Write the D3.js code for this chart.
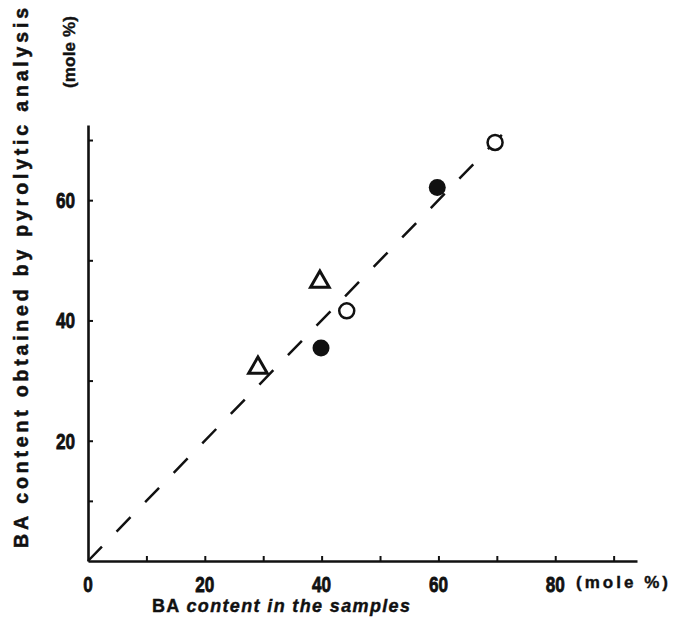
<!DOCTYPE html>
<html>
<head>
<meta charset="utf-8">
<script src="https://cdn.jsdelivr.net/npm/d3@7"></script>
<style>
  html, body { margin: 0; padding: 0; background: #fff; }
  svg { display: block; }
  .num { font-family: "Liberation Sans", "DejaVu Sans", sans-serif; font-weight: bold; }
  .lab { font-family: "Liberation Sans", "DejaVu Sans", sans-serif; font-weight: bold; }
</style>
</head>
<body>
<script>
// ---- data ----
const xTicks = [10, 20, 30, 40, 50, 60, 70, 80, 90];
const yTicks = [10, 20, 30, 40, 50, 60, 70];
const xTickLabels = [0, 20, 40, 60, 80];
const yTickLabels = [20, 40, 60];
// open triangles
const triX = [29.1, 39.7];
const triY = [32.3, 46.6];
// filled circles
const filledX = [39.9, 59.8];
const filledY = [35.4, 62.1];
// open circles
const openX = [44.3, 69.7];
const openY = [41.6, 69.6];
// reference line y = x
const lineX = [0, 72.5];
const lineY = [0, 72.5];

const W = 673, H = 635;
const svg = d3.select("body").append("svg").attr("width", W).attr("height", H);

const x = d3.scaleLinear().domain([0, 94]).range([88, 637]);
const y = d3.scaleLinear().domain([0, 72.5]).range([561, 125]);

const ink = "#111";

// axes
const xAxis = svg.append("g").attr("transform", `translate(0,${y(0)})`)
  .call(d3.axisBottom(x).tickValues(xTicks).tickSize(-5).tickSizeOuter(0).tickFormat(""));
const yAxis = svg.append("g").attr("transform", `translate(${x(0)},0)`)
  .call(d3.axisLeft(y).tickValues(yTicks).tickSize(-5).tickSizeOuter(0).tickFormat(""));
[xAxis, yAxis].forEach(g => {
  g.select(".domain").attr("stroke", ink).attr("stroke-width", 2.6);
  g.selectAll(".tick line").attr("stroke", ink).attr("stroke-width", 2);
});

// tick labels (tall, condensed digits)
svg.append("g").selectAll("text").data(xTickLabels).join("text")
  .attr("class", "num")
  .attr("transform", d => `translate(${x(d)},592) scale(0.78,1)`)
  .attr("text-anchor", "middle")
  .attr("font-size", 22).attr("fill", ink)
  .attr("stroke", ink).attr("stroke-width", 0.8)
  .text(d => d);
svg.append("g").selectAll("text").data(yTickLabels).join("text")
  .attr("class", "num")
  .attr("transform", d => `translate(75,${y(d) + 8}) scale(0.78,1)`)
  .attr("text-anchor", "end")
  .attr("font-size", 22).attr("fill", ink)
  .attr("stroke", ink).attr("stroke-width", 0.8)
  .text(d => d);

// units
svg.append("text").attr("class", "lab")
  .attr("x", 576).attr("y", 588)
  .attr("font-size", 17).attr("fill", ink)
  .attr("stroke", ink).attr("stroke-width", 0.4)
  .attr("textLength", 92).attr("lengthAdjust", "spacing")
  .text("(mole %)");
svg.append("text").attr("class", "lab")
  .attr("transform", "translate(75,52) rotate(-90)")
  .attr("text-anchor", "middle")
  .attr("font-size", 17).attr("fill", ink)
  .attr("stroke", ink).attr("stroke-width", 0.4)
  .attr("textLength", 72).attr("lengthAdjust", "spacing")
  .text("(mole %)");

// axis titles
const xt = svg.append("text").attr("class", "lab")
  .attr("x", 152).attr("y", 612)
  .attr("font-size", 18).attr("fill", ink)
  .attr("stroke", ink).attr("stroke-width", 0.4)
  .attr("textLength", 258).attr("lengthAdjust", "spacing");
xt.append("tspan").text("BA ");
xt.append("tspan").attr("font-style", "italic").text("content  in the samples");

svg.append("text").attr("class", "lab")
  .attr("transform", "translate(28,548) rotate(-90)")
  .attr("font-size", 19.5).attr("fill", ink)
  .attr("stroke", ink).attr("stroke-width", 0.5)
  .attr("textLength", 540).attr("lengthAdjust", "spacing")
  .text("BA content obtained by pyrolytic analysis");

// dashed reference line
svg.append("line")
  .attr("x1", x(lineX[0])).attr("y1", y(lineY[0]))
  .attr("x2", x(lineX[1])).attr("y2", y(lineY[1]))
  .attr("stroke", ink).attr("stroke-width", 2.5)
  .attr("stroke-dasharray", "20,21");

// markers
const tri = d3.symbol().type(d3.symbolTriangle).size(150);
svg.append("g").selectAll("path").data(triX.map((d, i) => [d, triY[i]])).join("path")
  .attr("d", tri)
  .attr("transform", d => `translate(${x(d[0])},${y(d[1]) + 1})`)
  .attr("fill", "white").attr("stroke", ink).attr("stroke-width", 3)
  .attr("stroke-linejoin", "miter");

svg.append("g").selectAll("circle").data(openX.map((d, i) => [d, openY[i]])).join("circle")
  .attr("cx", d => x(d[0])).attr("cy", d => y(d[1])).attr("r", 7.5)
  .attr("fill", "white").attr("stroke", ink).attr("stroke-width", 2.5);

svg.append("g").selectAll("circle").data(filledX.map((d, i) => [d, filledY[i]])).join("circle")
  .attr("cx", d => x(d[0])).attr("cy", d => y(d[1])).attr("r", 8.5)
  .attr("fill", ink);
</script>
</body>
</html>
